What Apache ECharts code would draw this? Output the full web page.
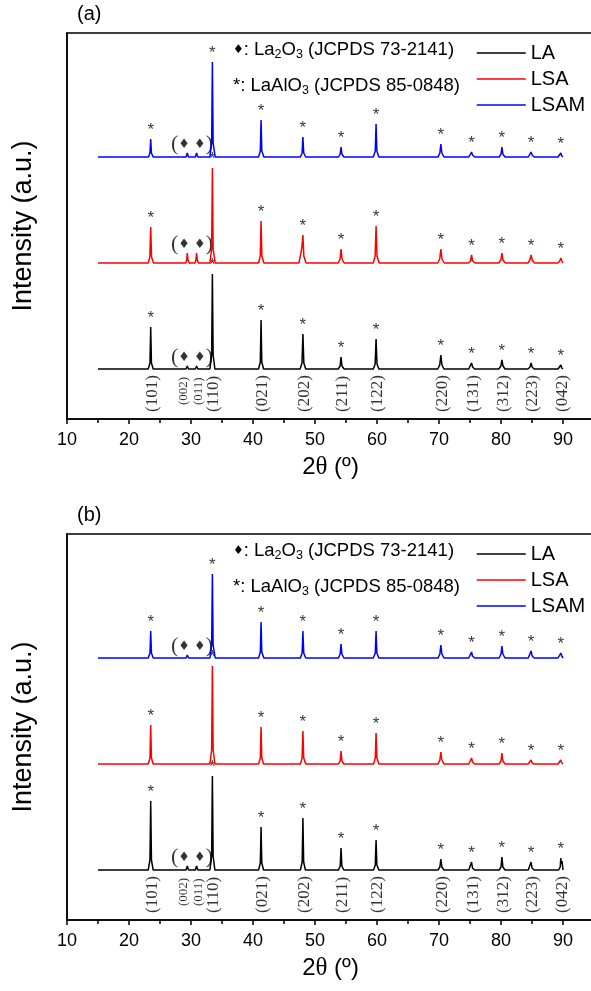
<!DOCTYPE html>
<html>
<head>
<meta charset="utf-8">
<script src="https://cdn.jsdelivr.net/npm/echarts@6/dist/echarts.min.js"></script>
<style>
  html, body { margin: 0; padding: 0; background: #fff; }
  #chart { width: 591px; height: 991px; }
</style>
</head>
<body>
<div id="chart"></div>
<script>
// XRD patterns of LA, LSA and LSAM: panel (a) and panel (b).
// Each profile is a list of [2theta, intensity above its own baseline].

const sampleNames = ['LA', 'LSA', 'LSAM'];
const sampleColors = ['#000000', '#ff0000', '#0000ff'];
// vertical stacking of the patterns (a.u.)
const stackOffsets = [50, 156, 262];

// LaAlO3 reflections marked with "*"
const perovskitePeaks = [23.5, 33.45, 41.3, 48.05, 54.2, 59.85, 70.3, 75.25, 80.15, 84.85, 89.65];
// La2O3 reflections marked with a diamond
const oxidePeaks = [29.4, 30.9];

// Miller indices written under the LA pattern
const hklPositions = [23.5, 28.6, 30.9, 33.45, 41.3, 48.05, 54.2, 59.85, 70.3, 75.25, 80.15, 84.85, 89.65];
const hklLabels = ['(101)', '(002)', '(011)', '(110)', '(021)', '(202)', '(211)', '(122)', '(220)', '(131)', '(312)', '(223)', '(042)'];
const hklSmall = [false, true, true, false, false, false, false, false, false, false, false, false, false];

// ---- panel (a) ----
const laA = [
  [15, 0], [19, 0],
  [23.1, 0], [23.38, 6], [23.5, 42], [23.62, 6], [23.9, 0], [26.5, 0],
  [29.2, 0], [29.4, 3], [29.6, 0],
  [30.7, 0], [30.9, 3], [31.1, 0],
  [33.05, 0], [33.33, 14], [33.45, 95], [33.57, 14], [33.85, 0], [37.4, 0],
  [40.9, 0], [41.18, 7], [41.3, 49], [41.42, 7], [41.7, 0], [44.6, 0],
  [47.6, 0], [47.9, 6], [48.05, 35], [48.2, 6], [48.5, 0], [51.1, 0],
  [53.75, 0], [54.05, 3], [54.2, 12], [54.35, 3], [54.7, 0], [57, 0],
  [59.4, 0], [59.7, 5], [59.85, 30], [60.0, 5], [60.3, 0], [65, 0],
  [69.8, 0], [70.12, 4], [70.3, 14], [70.48, 4], [70.8, 0], [72.8, 0],
  [74.8, 0], [75.1, 2], [75.25, 6], [75.42, 2], [75.75, 0], [77.7, 0],
  [79.65, 0], [79.98, 3], [80.15, 9], [80.32, 3], [80.65, 0], [82.5, 0],
  [84.35, 0], [84.68, 2], [84.85, 6], [85.02, 2], [85.35, 0], [87.3, 0],
  [89.2, 0], [89.5, 1], [89.65, 4], [89.8, 1], [90, 0]
];
const lsaA = [
  [15, 0], [19, 0],
  [23.1, 0], [23.36, 6], [23.5, 36], [23.64, 6], [23.95, 0], [26.5, 0],
  [29.15, 0], [29.3, 3], [29.4, 10], [29.52, 3], [29.7, 0],
  [30.65, 0], [30.8, 3], [30.9, 10], [31.02, 3], [31.2, 0],
  [33.05, 0], [33.33, 14], [33.45, 95], [33.57, 14], [33.9, 0], [37.4, 0],
  [40.9, 0], [41.17, 7], [41.3, 42], [41.43, 7], [41.75, 0], [44.6, 0],
  [47.4, 0], [47.7, 9], [47.85, 14], [48.05, 28], [48.2, 7], [48.55, 0], [51.1, 0],
  [53.75, 0], [54.04, 4], [54.2, 14], [54.36, 4], [54.7, 0], [57, 0],
  [59.4, 0], [59.7, 7], [59.85, 37], [60.0, 7], [60.35, 0], [65, 0],
  [69.8, 0], [70.12, 4], [70.3, 14], [70.48, 4], [70.85, 0], [72.8, 0],
  [74.75, 0], [75.08, 2], [75.25, 8], [75.42, 2], [75.8, 0], [77.7, 0],
  [79.65, 0], [79.98, 3], [80.15, 10], [80.32, 3], [80.7, 0], [82.5, 0],
  [84.35, 0], [84.66, 3], [84.85, 8], [85.04, 3], [85.4, 0], [87.3, 0],
  [89.15, 0], [89.48, 2], [89.65, 5], [89.82, 2], [90, 0]
];
const lsamA = [
  [15, 0], [19, 0],
  [23.15, 0], [23.38, 4], [23.5, 18], [23.62, 4], [23.9, 0], [26.5, 0],
  [29.2, 0], [29.4, 4], [29.6, 0],
  [30.7, 0], [30.9, 4], [31.1, 0],
  [33.05, 0], [33.33, 14], [33.45, 95], [33.57, 14], [33.9, 0], [37.4, 0],
  [40.9, 0], [41.18, 6], [41.3, 37], [41.42, 6], [41.75, 0], [44.6, 0],
  [47.65, 0], [47.92, 4], [48.05, 20], [48.18, 4], [48.5, 0], [51.1, 0],
  [53.8, 0], [54.06, 3], [54.2, 10], [54.34, 3], [54.65, 0], [57, 0],
  [59.4, 0], [59.72, 6], [59.85, 33], [59.98, 6], [60.3, 0], [65, 0],
  [69.85, 0], [70.14, 4], [70.3, 13], [70.46, 4], [70.8, 0], [72.8, 0],
  [74.8, 0], [75.1, 2], [75.25, 5], [75.4, 2], [75.75, 0], [77.7, 0],
  [79.7, 0], [80.0, 3], [80.15, 10], [80.3, 3], [80.65, 0], [82.5, 0],
  [84.4, 0], [84.68, 2], [84.85, 5], [85.02, 2], [85.35, 0], [87.3, 0],
  [89.2, 0], [89.5, 1], [89.65, 4], [89.8, 1], [90, 0]
];

// ---- panel (b) ----
const laB = [
  [15, 0], [19, 0],
  [23.1, 0], [23.38, 10], [23.5, 69], [23.62, 10], [23.9, 0], [26.5, 0],
  [29.2, 0], [29.4, 4], [29.6, 0],
  [30.7, 0], [30.9, 4], [31.1, 0],
  [33.05, 0], [33.33, 14], [33.45, 94], [33.57, 14], [33.85, 0], [37.4, 0],
  [40.9, 0], [41.18, 7], [41.3, 43], [41.42, 7], [41.7, 0], [44.6, 0],
  [47.65, 0], [47.93, 8], [48.05, 52], [48.17, 8], [48.45, 0], [51.1, 0],
  [53.8, 0], [54.07, 4], [54.2, 22], [54.33, 4], [54.65, 0], [57, 0],
  [59.45, 0], [59.72, 5], [59.85, 30], [59.98, 5], [60.3, 0], [65, 0],
  [69.85, 0], [70.14, 3], [70.3, 11], [70.46, 3], [70.8, 0], [72.8, 0],
  [74.8, 0], [75.1, 2], [75.25, 8], [75.4, 2], [75.75, 0], [77.7, 0],
  [79.7, 0], [80.0, 3], [80.15, 13], [80.3, 3], [80.65, 0], [82.5, 0],
  [84.4, 0], [84.7, 2], [84.85, 8], [85.0, 2], [85.35, 0], [87.3, 0],
  [89.3, 0], [89.55, 3], [89.65, 12], [89.75, 6], [89.85, 9], [90, 0]
];
const lsaB = [
  [15, 0], [19, 0],
  [23.1, 0], [23.38, 6], [23.5, 39], [23.62, 6], [23.9, 0], [28.5, 0],
  [33.05, 0], [33.33, 14], [33.45, 98], [33.57, 14], [33.85, 0], [37.4, 0],
  [40.9, 0], [41.18, 6], [41.3, 37], [41.42, 6], [41.7, 0], [44.6, 0],
  [47.65, 0], [47.92, 6], [48.05, 33], [48.18, 6], [48.5, 0], [51.1, 0],
  [53.8, 0], [54.06, 3], [54.2, 13], [54.34, 3], [54.65, 0], [57, 0],
  [59.45, 0], [59.72, 6], [59.85, 31], [59.98, 6], [60.3, 0], [65, 0],
  [69.85, 0], [70.14, 4], [70.3, 12], [70.46, 4], [70.8, 0], [72.8, 0],
  [74.8, 0], [75.1, 2], [75.25, 6], [75.4, 2], [75.75, 0], [77.7, 0],
  [79.7, 0], [80.0, 3], [80.15, 11], [80.3, 3], [80.65, 0], [82.5, 0],
  [84.4, 0], [84.68, 1], [84.85, 4], [85.02, 1], [85.35, 0], [87.3, 0],
  [89.2, 0], [89.5, 1], [89.65, 4], [89.8, 1], [90, 0]
];
const lsamB = [
  [15, 0], [19, 0],
  [23.1, 0], [23.38, 5], [23.5, 27], [23.62, 5], [23.9, 0], [26.5, 0],
  [29.2, 0], [29.4, 3], [29.6, 0],
  [30.7, 0], [30.9, 2], [31.1, 0],
  [33.05, 0], [33.33, 13], [33.45, 84], [33.57, 13], [33.9, 0], [37.4, 0],
  [40.9, 0], [41.18, 6], [41.3, 36], [41.42, 6], [41.75, 0], [44.6, 0],
  [47.65, 0], [47.92, 5], [48.05, 27], [48.18, 5], [48.5, 0], [51.1, 0],
  [53.8, 0], [54.06, 4], [54.2, 14], [54.34, 4], [54.65, 0], [57, 0],
  [59.4, 0], [59.72, 5], [59.85, 27], [59.98, 5], [60.3, 0], [65, 0],
  [69.85, 0], [70.14, 4], [70.3, 13], [70.46, 4], [70.8, 0], [72.8, 0],
  [74.8, 0], [75.1, 2], [75.25, 6], [75.4, 2], [75.75, 0], [77.7, 0],
  [79.7, 0], [80.0, 4], [80.15, 12], [80.3, 4], [80.65, 0], [82.5, 0],
  [84.4, 0], [84.68, 2], [84.85, 7], [85.02, 2], [85.35, 0], [87.3, 0],
  [89.2, 0], [89.5, 2], [89.65, 5], [89.8, 2], [90, 0]
];

const panels = [
  { tag: '(a)', profiles: [laA, lsaA, lsamA] },
  { tag: '(b)', profiles: [laB, lsaB, lsamB] }
];

const SANS = '"Liberation Sans", Arial, Helvetica, sans-serif';
const SERIF = '"Liberation Serif", "Times New Roman", serif';
const SYMB = '"DejaVu Sans", sans-serif';
const PANEL_TOP = [33, 534];
const PLOT_H = 386;

function heightAt(profile, x) {
  const p = profile.find(d => d[0] === x);
  return p ? p[1] : null;
}

const titles = [], legends = [], grids = [], xAxes = [], yAxes = [], series = [];

const subRich = {
  t: { fontSize: 18.5, lineHeight: 22, fontFamily: SANS, fontWeight: 'normal', color: '#000' },
  s: { fontSize: 12.5, lineHeight: 12, verticalAlign: 'bottom', fontFamily: SANS, fontWeight: 'normal', color: '#000' },
  d: { fontSize: 12, lineHeight: 22, fontFamily: SYMB, fontWeight: 'normal', color: '#000' }
};

panels.forEach((panel, g) => {
  const top = PANEL_TOP[g];
  const xMain = g * 2;

  titles.push({
    text: panel.tag, left: 77, top: top - 29, padding: 0,
    textStyle: { fontSize: 20, fontWeight: 'normal', fontFamily: SANS, color: '#000' }
  });
  titles.push({
    text: '{d|\u2666}{t|: La}{s|2}{t|O}{s|3}{t| (JCPDS 73-2141)}',
    left: 233, top: top + 6, padding: 0,
    textStyle: { fontWeight: 'normal', rich: subRich }
  });
  titles.push({
    text: '{t|*: LaAlO}{s|3}{t| (JCPDS 85-0848)}',
    left: 233, top: top + 42, padding: 0,
    textStyle: { fontWeight: 'normal', rich: subRich }
  });

  legends.push({
    data: sampleNames, orient: 'vertical', left: 476, top: top + 10,
    itemWidth: 49, itemHeight: 14, itemGap: 6, padding: 0,
    selectedMode: false,
    itemStyle: { color: 'rgba(0,0,0,0)', borderColor: 'rgba(0,0,0,0)', borderWidth: 0 },
    lineStyle: { width: 1.5 },
    textStyle: { fontSize: 20, fontFamily: SANS, color: '#000', lineHeight: 20 }
  });

  grids.push({
    left: 67, top: top, width: 527, height: PLOT_H,
    show: true, borderColor: '#000', borderWidth: 1.5, backgroundColor: 'transparent',
    containLabel: false, outerBoundsMode: 'none'
  });

  xAxes.push({
    gridIndex: g, type: 'value', min: 10, max: 95, interval: 10, position: 'bottom',
    name: '2{th|\u03b8} (\u00ba)', nameLocation: 'middle', nameGap: 36,
    nameTextStyle: {
      fontSize: 24, fontFamily: SANS, color: '#000',
      rich: { th: { fontSize: 25, fontFamily: SERIF, color: '#000' } }
    },
    axisLine: { show: true, onZero: false, lineStyle: { color: '#000', width: 1.5 } },
    axisTick: { show: true, inside: false, length: 5, lineStyle: { color: '#000', width: 1.5 } },
    axisLabel: { show: true, margin: 12, fontSize: 18, fontFamily: SANS, color: '#000', showMaxLabel: false },
    splitLine: { show: false }
  });
  xAxes.push({
    gridIndex: g, type: 'value', min: 10, max: 95, interval: 5, position: 'bottom',
    axisLine: { show: false },
    axisTick: { show: true, inside: false, length: 4, lineStyle: { color: '#000', width: 1.5 } },
    axisLabel: { show: false },
    splitLine: { show: false }
  });
  yAxes.push({
    gridIndex: g, type: 'value', min: 0, max: PLOT_H,
    name: 'Intensity (a.u.)', nameLocation: 'middle', nameGap: 30,
    nameTextStyle: { fontSize: 27, fontFamily: SANS, color: '#000' },
    axisLine: { show: true, onZero: false, lineStyle: { color: '#000', width: 1.5 } },
    axisTick: { show: false }, axisLabel: { show: false }, splitLine: { show: false }
  });

  const starPts = [];
  const diamondPts = [];
  panel.profiles.forEach((profile, s) => {
    const off = stackOffsets[s];
    series.push({
      type: 'line', name: sampleNames[s], xAxisIndex: xMain, yAxisIndex: g,
      data: profile.map(d => [d[0], d[1] + off]),
      symbol: 'none', silent: true, sampling: false,
      lineStyle: { color: sampleColors[s], width: 1.5 },
      itemStyle: { color: sampleColors[s] }
    });
    perovskitePeaks.forEach(x => {
      const h = heightAt(profile, x);
      if (h !== null) starPts.push([x, h + off]);
    });
    const oh = oxidePeaks.map(x => heightAt(profile, x)).filter(h => h !== null);
    if (oh.length) {
      diamondPts.push([(oxidePeaks[0] + oxidePeaks[1]) / 2, Math.max(...oh) + off]);
    }
  });

  series.push({
    type: 'scatter', xAxisIndex: xMain, yAxisIndex: g, silent: true,
    symbol: 'circle', symbolSize: 1, itemStyle: { color: 'rgba(0,0,0,0)' },
    data: starPts,
    label: { show: true, formatter: '*', position: 'top', distance: 0,
             fontSize: 17, fontFamily: SANS, color: '#000' }
  });
  series.push({
    type: 'scatter', xAxisIndex: xMain, yAxisIndex: g, silent: true,
    symbol: 'circle', symbolSize: 1, itemStyle: { color: 'rgba(0,0,0,0)' },
    data: diamondPts,
    label: {
      show: true, position: 'top', distance: -3,
      formatter: '{p|(}{d|\u2666 \u2666}{p|)}',
      rich: {
        p: { fontSize: 22, fontFamily: SERIF, color: '#000' },
        d: { fontSize: 13, fontFamily: SYMB, color: '#000' }
      }
    }
  });
  series.push({
    type: 'scatter', xAxisIndex: xMain, yAxisIndex: g, silent: true,
    symbol: 'circle', symbolSize: 1, itemStyle: { color: 'rgba(0,0,0,0)' },
    data: hklPositions.map((x, i) => ({
      value: [x + 0.25, hklSmall[i] ? 14 : 7],
      label: { fontSize: hklSmall[i] ? 13 : 17 }
    })),
    label: {
      show: true, position: 'inside', rotate: 90, align: 'left', verticalAlign: 'middle',
      formatter: p => hklLabels[p.dataIndex],
      fontFamily: SERIF, color: '#000'
    }
  });
});

const chart = echarts.init(document.getElementById('chart'), null, { renderer: 'canvas' });
chart.setOption({
  animation: false,
  backgroundColor: '#ffffff',
  title: titles,
  legend: legends,
  grid: grids,
  xAxis: xAxes,
  yAxis: yAxes,
  series: series
});
</script>
</body>
</html>
